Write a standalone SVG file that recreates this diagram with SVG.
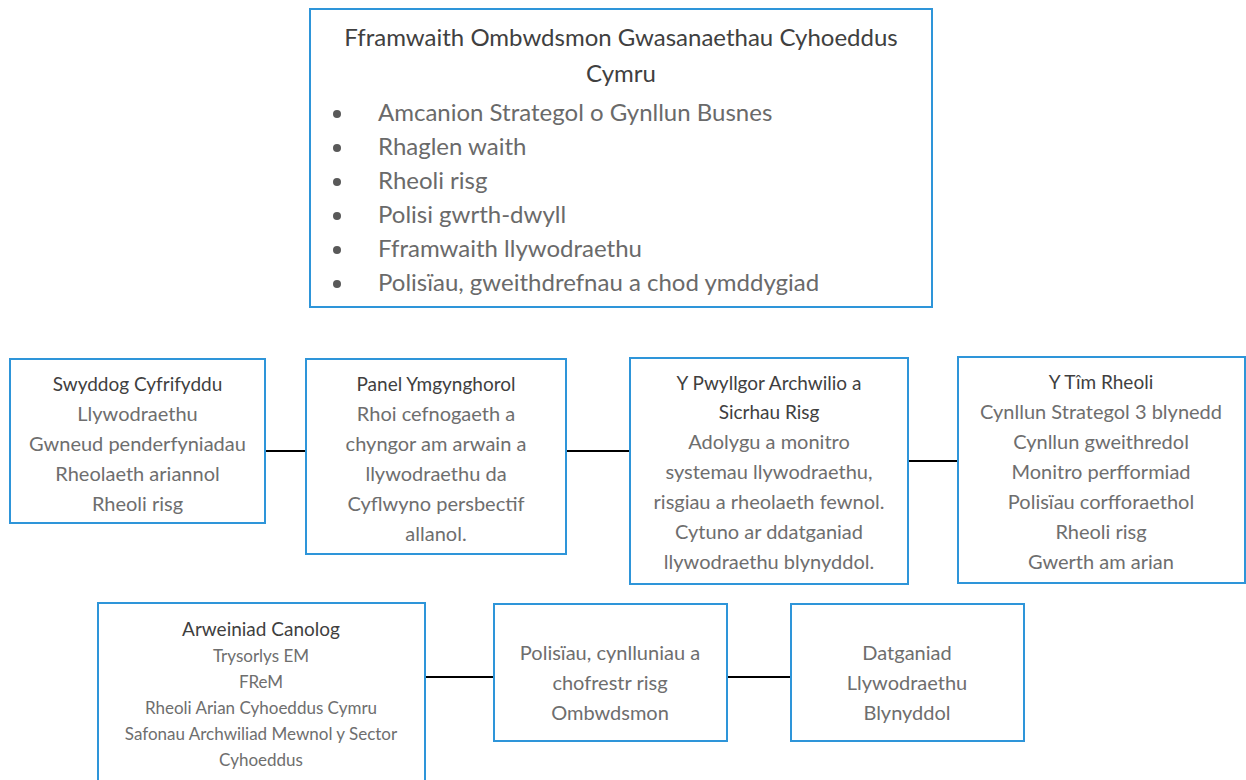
<svg xmlns="http://www.w3.org/2000/svg" width="1246" height="780" viewBox="0 0 1246 780">
<style>
.box{fill:#fff;stroke:#2e95d9;stroke-width:2}
.conn{stroke:#000;stroke-width:2;fill:none}
text{font-family:Lato,"Liberation Sans",sans-serif;text-anchor:middle}
.h{font-size:19px;fill:#3f3f3f}
.t{font-size:20px;fill:#6e6e6e}
.th{font-size:24px;fill:#404040}
.tb{font-size:24px;fill:#6a6a6a;text-anchor:start}
.s{font-size:17px;fill:#6e6e6e}
</style>
<rect width="1246" height="780" fill="#fff"/>
<g id="connectors">
<line class="conn" x1="265" y1="451" x2="306" y2="451"/>
<line class="conn" x1="566" y1="451" x2="630" y2="451"/>
<line class="conn" x1="908" y1="461" x2="958" y2="461"/>
<line class="conn" x1="425" y1="677" x2="494" y2="677"/>
<line class="conn" x1="727" y1="677" x2="791" y2="677"/>
</g>
<g id="framework">
<rect class="box" x="310" y="9" width="622" height="298"/>
<text class="th" x="621" y="46">Fframwaith Ombwdsmon Gwasanaethau Cyhoeddus</text>
<text class="th" x="621" y="82">Cymru</text>
<g fill="#595959"><circle cx="337" cy="114" r="4"/><circle cx="337" cy="148" r="4"/><circle cx="337" cy="182" r="4"/><circle cx="337" cy="216" r="4"/><circle cx="337" cy="250" r="4"/><circle cx="337" cy="284" r="4"/></g>
<text class="tb" x="378" y="121">Amcanion Strategol o Gynllun Busnes</text>
<text class="tb" x="378" y="155">Rhaglen waith</text>
<text class="tb" x="378" y="189">Rheoli risg</text>
<text class="tb" x="378" y="223">Polisi gwrth-dwyll</text>
<text class="tb" x="378" y="257">Fframwaith llywodraethu</text>
<text class="tb" x="378" y="291">Polisïau, gweithdrefnau a chod ymddygiad</text>
</g>
<g id="swyddog">
<rect class="box" x="10" y="359" width="255" height="164"/>
<text class="h" x="137.5" y="391">Swyddog Cyfrifyddu</text>
<text class="t" x="137.5" y="421">Llywodraethu</text>
<text class="t" x="137.5" y="451">Gwneud penderfyniadau</text>
<text class="t" x="137.5" y="481">Rheolaeth ariannol</text>
<text class="t" x="137.5" y="511">Rheoli risg</text>
</g>
<g id="panel">
<rect class="box" x="306" y="359" width="260" height="195"/>
<text class="h" x="436" y="391">Panel Ymgynghorol</text>
<text class="t" x="436" y="421">Rhoi cefnogaeth a</text>
<text class="t" x="436" y="451">chyngor am arwain a</text>
<text class="t" x="436" y="481">llywodraethu da</text>
<text class="t" x="436" y="511">Cyflwyno persbectif</text>
<text class="t" x="436" y="541">allanol.</text>
</g>
<g id="pwyllgor">
<rect class="box" x="630" y="358" width="278" height="226"/>
<text class="h" x="769" y="390">Y Pwyllgor Archwilio a</text>
<text class="h" x="769" y="419">Sicrhau Risg</text>
<text class="t" x="769" y="449">Adolygu a monitro</text>
<text class="t" x="769" y="479">systemau llywodraethu,</text>
<text class="t" x="769" y="509">risgiau a rheolaeth fewnol.</text>
<text class="t" x="769" y="539">Cytuno ar ddatganiad</text>
<text class="t" x="769" y="569">llywodraethu blynyddol.</text>
</g>
<g id="tim">
<rect class="box" x="958" y="357" width="287" height="226"/>
<text class="h" x="1101" y="389">Y Tîm Rheoli</text>
<text class="t" x="1101" y="419">Cynllun Strategol 3 blynedd</text>
<text class="t" x="1101" y="449">Cynllun gweithredol</text>
<text class="t" x="1101" y="479">Monitro perfformiad</text>
<text class="t" x="1101" y="509">Polisïau corfforaethol</text>
<text class="t" x="1101" y="539">Rheoli risg</text>
<text class="t" x="1101" y="569">Gwerth am arian</text>
</g>
<g id="arweiniad">
<rect class="box" x="98" y="603" width="327" height="190"/>
<text class="h" x="261" y="636">Arweiniad Canolog</text>
<text class="s" x="261" y="662">Trysorlys EM</text>
<text class="s" x="261" y="688">FReM</text>
<text class="s" x="261" y="714">Rheoli Arian Cyhoeddus Cymru</text>
<text class="s" x="261" y="740">Safonau Archwiliad Mewnol y Sector</text>
<text class="s" x="261" y="766">Cyhoeddus</text>
</g>
<g id="polisiau">
<rect class="box" x="494" y="604" width="233" height="137"/>
<text class="t" x="610" y="660">Polisïau, cynlluniau a</text>
<text class="t" x="610" y="690">chofrestr risg</text>
<text class="t" x="610" y="720">Ombwdsmon</text>
</g>
<g id="datganiad">
<rect class="box" x="791" y="604" width="233" height="137"/>
<text class="t" x="907" y="660">Datganiad</text>
<text class="t" x="907" y="690">Llywodraethu</text>
<text class="t" x="907" y="720">Blynyddol</text>
</g>
</svg>
